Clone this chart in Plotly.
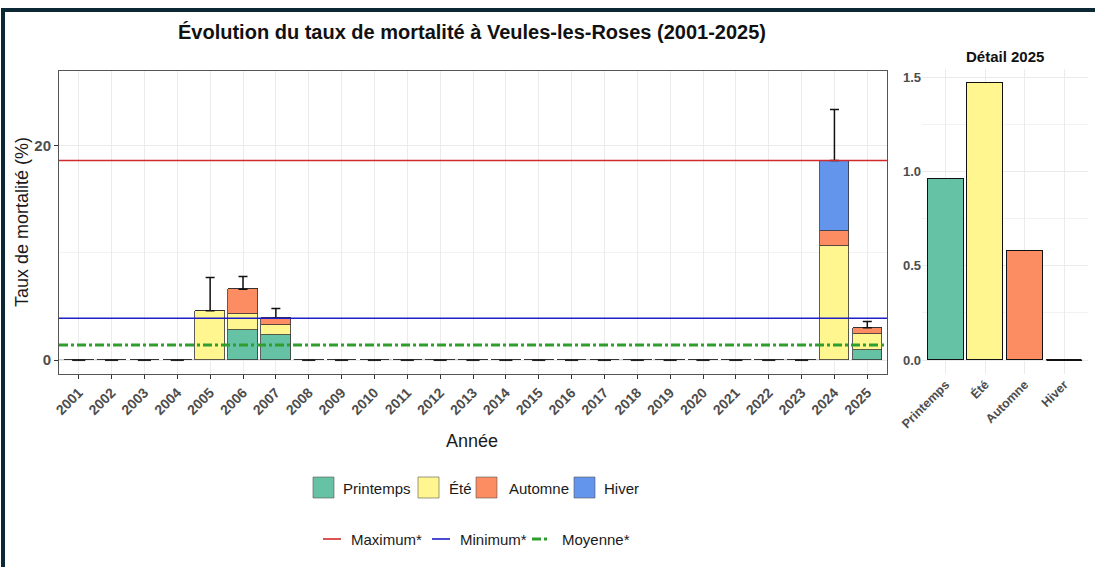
import plotly.graph_objects as go

# ---------------- data ----------------
annees = [2001, 2002, 2003, 2004, 2005, 2006, 2007, 2008, 2009, 2010, 2011, 2012, 2013,
          2014, 2015, 2016, 2017, 2018, 2019, 2020, 2021, 2022, 2023, 2024, 2025]
printemps = [0, 0, 0, 0, 0, 2.8, 2.3, 0, 0, 0, 0, 0, 0, 0, 0, 0, 0, 0, 0, 0, 0, 0, 0, 0, 0.96]
ete       = [0, 0, 0, 0, 4.6, 1.5, 1.0, 0, 0, 0, 0, 0, 0, 0, 0, 0, 0, 0, 0, 0, 0, 0, 0, 10.6, 1.47]
automne   = [0, 0, 0, 0, 0, 2.3, 0.6, 0, 0, 0, 0, 0, 0, 0, 0, 0, 0, 0, 0, 0, 0, 0, 0, 1.4, 0.58]
hiver     = [0, 0, 0, 0, 0, 0, 0, 0, 0, 0, 0, 0, 0, 0, 0, 0, 0, 0, 0, 0, 0, 0, 0, 6.6, 0]
borne_sup = [None, None, None, None, 7.7, 7.8, 4.8, None, None, None, None, None, None,
             None, None, None, None, None, None, None, None, None, None, 23.35, 3.6]

saisons = ["Printemps", "Été", "Automne", "Hiver"]
couleurs = ["#66C2A5", "#FFF68F", "#FC8D62", "#6495ED"]
annee_detail = 2025

# ---------------- derived ----------------
series = [printemps, ete, automne, hiver]
totaux = [sum(v) for v in zip(*series)]
ref_tot = [t for a, t in zip(annees, totaux) if a != annee_detail]
maximum = max(ref_tot)
minimum = min(t for t in ref_tot if t > 0)
moyenne = sum(ref_tot) / len(ref_tot)
idx_detail = annees.index(annee_detail)
detail_vals = [s[idx_detail] for s in series]

W, H = 1095, 567
def px(x): return x / W
def py(y): return 1 - y / H

FONT = "Liberation Sans"
TICKC = "#4D4D4D"
GRID = "#EBEBEB"

fig = go.Figure()

# stacked bars, main panel
for nom, vals, col in zip(saisons, series, couleurs):
    fig.add_bar(x=annees, y=vals, width=0.9, name=nom, showlegend=False,
                marker=dict(color=col, line=dict(color="#333333", width=0.8)),
                xaxis="x", yaxis="y", hoverinfo="x+y+name")

# zero-height bars drawn as short dashes
zx, zy = [], []
for a, t in zip(annees, totaux):
    if t == 0:
        zx += [a - 0.2, a + 0.2, None]
        zy += [0, 0, None]
fig.add_scatter(x=zx, y=zy, mode="lines", line=dict(color="#222222", width=2),
                showlegend=False, hoverinfo="skip", xaxis="x", yaxis="y")

# error bars (upper only)
ex, ey, ea = [], [], []
for a, t, b in zip(annees, totaux, borne_sup):
    if b is not None:
        ex.append(a); ey.append(t); ea.append(b - t)
fig.add_scatter(x=ex, y=ey, mode="markers", marker=dict(size=1, opacity=0),
                error_y=dict(type="data", symmetric=False, array=ea, arrayminus=[0] * len(ea),
                             color="#111111", thickness=1.5, width=4.5),
                showlegend=False, hoverinfo="skip", xaxis="x", yaxis="y")

# detail panel bars
xi = list(range(len(saisons)))
fig.add_bar(x=xi, y=detail_vals, width=0.9, showlegend=False,
            marker=dict(color=couleurs, line=dict(color="#111111", width=1.5)),
            xaxis="x2", yaxis="y2", hovertext=saisons, hoverinfo="text+y")
dzx, dzy = [], []
for i, v in zip(xi, detail_vals):
    if v == 0:
        dzx += [i - 0.45, i + 0.45, None]
        dzy += [0, 0, None]
fig.add_scatter(x=dzx, y=dzy, mode="lines", line=dict(color="#111111", width=1.5),
                showlegend=False, hoverinfo="skip", xaxis="x2", yaxis="y2")

# reference lines
shapes = [
    dict(type="line", xref="x domain", yref="y", x0=0, x1=1, y0=0, y1=0,
         line=dict(color="#9A9A9A", width=1.2, dash="dash"), layer="below"),
    dict(type="line", xref="x domain", yref="y", x0=0, x1=1, y0=maximum, y1=maximum,
         line=dict(color="#D02A2A", width=1.6)),
    dict(type="line", xref="x domain", yref="y", x0=0, x1=1, y0=minimum, y1=minimum,
         line=dict(color="#1F1FC8", width=1.6)),
    dict(type="line", xref="x domain", yref="y", x0=0, x1=1, y0=moyenne, y1=moyenne,
         line=dict(color="#2E9E2E", width=3, dash="dashdot")),
]

# outer frame
FRAME = "#0D2835"
shapes += [
    dict(type="rect", xref="paper", yref="paper", x0=px(1), x1=1, y0=py(12), y1=py(8),
         fillcolor=FRAME, line=dict(width=0), layer="above"),
    dict(type="rect", xref="paper", yref="paper", x0=px(1), x1=px(5), y0=0, y1=py(8),
         fillcolor=FRAME, line=dict(width=0), layer="above"),
]

# manual legends
annotations = []
leg_fill = [(313, 341), (418, 447), (476, 507), (574, 602)]
for (sx, tx), nom, col in zip(leg_fill, saisons, couleurs):
    shapes.append(dict(type="rect", xref="paper", yref="paper",
                       x0=px(sx), x1=px(sx + 21), y0=py(498), y1=py(477),
                       fillcolor=col, line=dict(color="#555555", width=0.6)))
    annotations.append(dict(x=px(tx), y=py(488), xref="paper", yref="paper", text=nom,
                            showarrow=False, xanchor="left", yanchor="middle",
                            font=dict(family=FONT, size=15, color="#1A1A1A")))
leg_line = [(323, 349, "Maximum*", "#D02A2A", 1.6, "solid"),
            (432, 458, "Minimum*", "#1F1FC8", 1.6, "solid"),
            (532, 560, "Moyenne*", "#2E9E2E", 3, "dashdot")]
for sx, tx, nom, col, w, d in leg_line:
    shapes.append(dict(type="line", xref="paper", yref="paper",
                       x0=px(sx), x1=px(sx + 18), y0=py(539), y1=py(539),
                       line=dict(color=col, width=w, dash=d)))
    annotations.append(dict(x=px(tx), y=py(539), xref="paper", yref="paper", text=nom,
                            showarrow=False, xanchor="left", yanchor="middle",
                            font=dict(family=FONT, size=15, color="#1A1A1A")))

# titles
annotations += [
    dict(x=px(472), y=py(32), xref="paper", yref="paper",
         text="<b>Évolution du taux de mortalité à Veules-les-Roses (2001-2025)</b>",
         showarrow=False, xanchor="center", yanchor="middle",
         font=dict(family=FONT, size=20, color="#111111")),
    dict(x=px(1005), y=py(56), xref="paper", yref="paper", text="<b>Détail 2025</b>",
         showarrow=False, xanchor="center", yanchor="middle",
         font=dict(family=FONT, size=15, color="#111111")),
    dict(x=px(22), y=py(222), xref="paper", yref="paper", text="Taux de mortalité (%)",
         showarrow=False, textangle=-90, xanchor="center", yanchor="middle",
         font=dict(family=FONT, size=18, color="#1A1A1A")),
    dict(x=px(472), y=py(441), xref="paper", yref="paper", text="Année",
         showarrow=False, xanchor="center", yanchor="middle",
         font=dict(family=FONT, size=18, color="#1A1A1A")),
]

tickfont = dict(family=FONT, size=14, color=TICKC, weight="bold")

fig.update_layout(
    width=W, height=H, margin=dict(l=0, r=0, t=0, b=0),
    paper_bgcolor="white", plot_bgcolor="white",
    barmode="stack", bargap=0, showlegend=False,
    font=dict(family=FONT),
    shapes=shapes, annotations=annotations,
    xaxis=dict(domain=[px(59), px(887)], anchor="y", range=[2000.4, 2025.6],
               tickvals=annees, ticktext=[str(a) for a in annees], tickangle=-45,
               tickfont=tickfont, ticks="outside", ticklen=4, tickcolor="#333333",
               showgrid=True, gridcolor=GRID, gridwidth=1, zeroline=False,
               showline=True, linecolor="#555555", linewidth=1, mirror=True,
               automargin=False),
    yaxis=dict(domain=[py(374), py(71)], anchor="x", range=[-1.3, 26.95],
               tickvals=[0, 20], ticktext=["0", "20"], tickfont=dict(family=FONT, size=15, color=TICKC, weight="bold"),
               ticks="outside", ticklen=4, tickcolor="#333333",
               showgrid=True, gridcolor=GRID, gridwidth=1, zeroline=False,
               minor=dict(tickvals=[10], showgrid=True, gridcolor="#F2F2F2", gridwidth=0.8, ticklen=0),
               showline=True, linecolor="#555555", linewidth=1, mirror=True,
               automargin=False),
    xaxis2=dict(domain=[px(922), px(1088)], anchor="y2", range=[-0.6, 3.6],
                tickvals=xi, ticktext=saisons, tickangle=-45,
                tickfont=dict(family=FONT, size=12.5, color=TICKC, weight="bold"),
                showgrid=True, gridcolor=GRID, zeroline=False, showline=False,
                automargin=False),
    yaxis2=dict(domain=[py(374), py(69)], anchor="x2", range=[-0.0735, 1.5435],
                tickvals=[0, 0.5, 1, 1.5], ticktext=["0.0", "0.5", "1.0", "1.5"],
                tickfont=dict(family=FONT, size=13, color=TICKC, weight="bold"),
                showgrid=True, gridcolor=GRID, zeroline=False, showline=False,
                minor=dict(tickvals=[0.25, 0.75, 1.25], showgrid=True, gridcolor="#F2F2F2", gridwidth=0.8),
                automargin=False),
)

fig.write_html("out.html", config={"displayModeBar": False},
               post_script="document.body.style.margin='0px';document.body.style.overflow='hidden';")
